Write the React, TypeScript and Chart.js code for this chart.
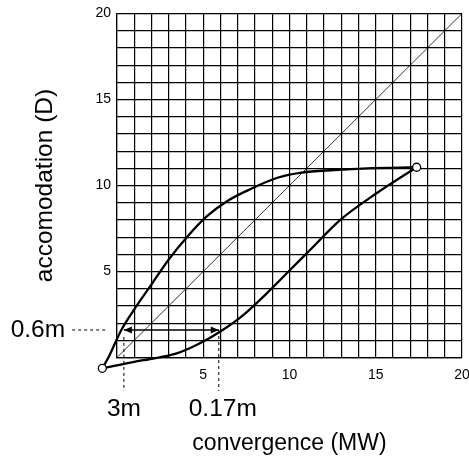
import React, { useEffect, useRef } from "react";
import { Chart, registerables } from "chart.js";

Chart.register(...registerables);

// Curves: convergence (MW) vs accomodation (D)
const upperX = [-0.85, -0.5, 0.25, 1.0, 2.0, 3.0, 4.1, 5.2, 6.4, 7.75, 9.3, 10.7, 12.6, 14.5, 17.37];
const upperY = [-0.63, 0.0, 1.6, 2.8, 4.25, 5.7, 7.05, 8.2, 9.1, 9.8, 10.45, 10.75, 10.9, 11.0, 11.06];
const lowerX = [-0.85, 1.0, 1.92, 3.46, 4.81, 5.97, 7.32, 8.68, 10.03, 11.19, 12.93, 15.05, 17.37];
const lowerY = [-0.63, -0.25, -0.09, 0.24, 0.83, 1.5, 2.47, 3.73, 5.09, 6.25, 7.99, 9.55, 11.06];
const endX = [-0.85, 17.37];
const endY = [-0.63, 11.06];
const diagX = [0, 20];
const diagY = [0, 20];

// Annotation values
const arrowY = 1.6; // 0.6 m -> accomodation
const nearX = 0.4; // 3 m -> convergence
const farX = 5.9; // 0.17 m -> convergence
const leftDashX = [-2.6, -0.58];
const dropBottom = -1.95;
const nearDropTop = 1.2;

const labelNear = "3m";
const labelFar = "0.17m";
const labelAcc = "0.6m";
const xTitle = "convergence (MW)";
const yTitle = "accomodation (D)";
const tickLabels = [5, 10, 15, 20];

const FONT = "'Liberation Sans', Arial, Helvetica, sans-serif";

const pts = (xs: number[], ys: number[]) => xs.map((x, i) => ({ x, y: ys[i] }));

const fixRange = (axis: any) => {
  axis.min = 0;
  axis.max = 20;
};

export default function App() {
  const ref = useRef<HTMLCanvasElement | null>(null);
  useEffect(() => {
    if (!ref.current) return;
    const annot = {
      id: "annot",
      afterDatasetsDraw(chart: any) {
        const ctx = chart.ctx;
        const xs = chart.scales.x;
        const ys = chart.scales.y;
        // arrowheads
        const ya = ys.getPixelForValue(arrowY);
        const xa1 = xs.getPixelForValue(nearX);
        const xa2 = xs.getPixelForValue(farX);
        ctx.save();
        ctx.fillStyle = "#000";
        ctx.beginPath();
        ctx.moveTo(xa1, ya);
        ctx.lineTo(xa1 + 8, ya - 3.5);
        ctx.lineTo(xa1 + 8, ya + 3.5);
        ctx.closePath();
        ctx.fill();
        ctx.beginPath();
        ctx.moveTo(xa2, ya);
        ctx.lineTo(xa2 - 8, ya - 3.5);
        ctx.lineTo(xa2 - 8, ya + 3.5);
        ctx.closePath();
        ctx.fill();
        // end circles
        ctx.lineWidth = 1.3;
        ctx.strokeStyle = "#000";
        ctx.fillStyle = "#fff";
        endX.forEach((x, i) => {
          ctx.beginPath();
          ctx.arc(xs.getPixelForValue(x), ys.getPixelForValue(endY[i]), 4, 0, Math.PI * 2);
          ctx.fill();
          ctx.stroke();
        });
        // labels
        ctx.fillStyle = "#000";
        ctx.font = "24.5px " + FONT;
        ctx.textBaseline = "middle";
        ctx.textAlign = "right";
        ctx.fillText(labelAcc, xs.getPixelForValue(leftDashX[0]) - 7, ya);
        ctx.textAlign = "center";
        const yl = ys.getPixelForValue(dropBottom) + 18;
        ctx.fillText(labelNear, xs.getPixelForValue(nearX), yl);
        ctx.fillText(labelFar, xs.getPixelForValue(farX) + 4, yl);
        ctx.restore();
      },
    };
    const chart = new Chart(ref.current, {
      type: "scatter",
      data: {
        datasets: [
          {
            data: pts(upperX, upperY),
            showLine: true,
            borderColor: "#000",
            borderWidth: 2.3,
            pointRadius: 0,
            cubicInterpolationMode: "monotone",
            capBezierPoints: false,
            clip: false,
          },
          {
            data: pts(lowerX, lowerY),
            showLine: true,
            borderColor: "#000",
            borderWidth: 2.3,
            pointRadius: 0,
            cubicInterpolationMode: "monotone",
            capBezierPoints: false,
            clip: false,
          },
          {
            data: pts(diagX, diagY),
            showLine: true,
            borderColor: "#000",
            borderWidth: 0.8,
            pointRadius: 0,
          },
          {
            data: [{ x: nearX, y: arrowY }, { x: farX, y: arrowY }],
            showLine: true,
            borderColor: "#000",
            borderWidth: 1.6,
            pointRadius: 0,
          },
          {
            data: [{ x: leftDashX[0], y: arrowY }, { x: leftDashX[1], y: arrowY }],
            showLine: true,
            borderColor: "#000",
            borderWidth: 1,
            borderDash: [3, 3],
            pointRadius: 0,
            clip: false,
          },
          {
            data: [{ x: nearX, y: nearDropTop }, { x: nearX, y: dropBottom }],
            showLine: true,
            borderColor: "#000",
            borderWidth: 1,
            borderDash: [3, 3],
            pointRadius: 0,
            clip: false,
          },
          {
            data: [{ x: farX, y: arrowY }, { x: farX, y: dropBottom }],
            showLine: true,
            borderColor: "#000",
            borderWidth: 1,
            borderDash: [3, 3],
            pointRadius: 0,
            clip: false,
          },
        ] as any,
      },
      options: {
        responsive: false,
        animation: false,
        events: [],
        layout: { padding: { top: 13.5, right: 7, left: 0, bottom: 0 } },
        plugins: { legend: { display: false }, tooltip: { enabled: false } },
        scales: {
          x: {
            type: "linear",
            afterDataLimits: fixRange,
            afterFit(axis: any) {
              axis.height = 101.5;
              axis.paddingLeft = 0;
              axis.paddingRight = 0;
            },
            grid: { color: "#000", lineWidth: 1.2, drawTicks: false },
            border: { color: "#000", width: 1.2 },
            ticks: {
              stepSize: 1,
              autoSkip: false,
              maxRotation: 0,
              padding: 9,
              color: "#000",
              font: { family: FONT, size: 14 },
              callback: (v: any) => (tickLabels.includes(Number(v)) ? String(v) : ""),
            },
            title: {
              display: true,
              text: xTitle,
              color: "#000",
              font: { family: FONT, size: 23 },
              padding: { top: 0, bottom: 2 },
            },
          },
          y: {
            type: "linear",
            afterDataLimits: fixRange,
            afterFit(axis: any) {
              axis.width = 117;
              axis.paddingTop = 0;
              axis.paddingBottom = 0;
            },
            grid: { color: "#000", lineWidth: 1.2, drawTicks: false },
            border: { color: "#000", width: 1.2 },
            ticks: {
              stepSize: 1,
              autoSkip: false,
              padding: 6,
              color: "#000",
              font: { family: FONT, size: 14 },
              callback: (v: any) => (tickLabels.includes(Number(v)) ? String(v) : ""),
            },
            title: {
              display: true,
              text: yTitle,
              color: "#000",
              font: { family: FONT, size: 24.5 },
              padding: { top: 31, bottom: 0 },
            },
          },
        },
      } as any,
      plugins: [annot],
    });
    return () => chart.destroy();
  }, []);
  return (
    <canvas
      ref={ref}
      width={469}
      height={459}
      style={{ position: "absolute", left: 0, top: 0, display: "block", background: "#fff" }}
    />
  );
}
